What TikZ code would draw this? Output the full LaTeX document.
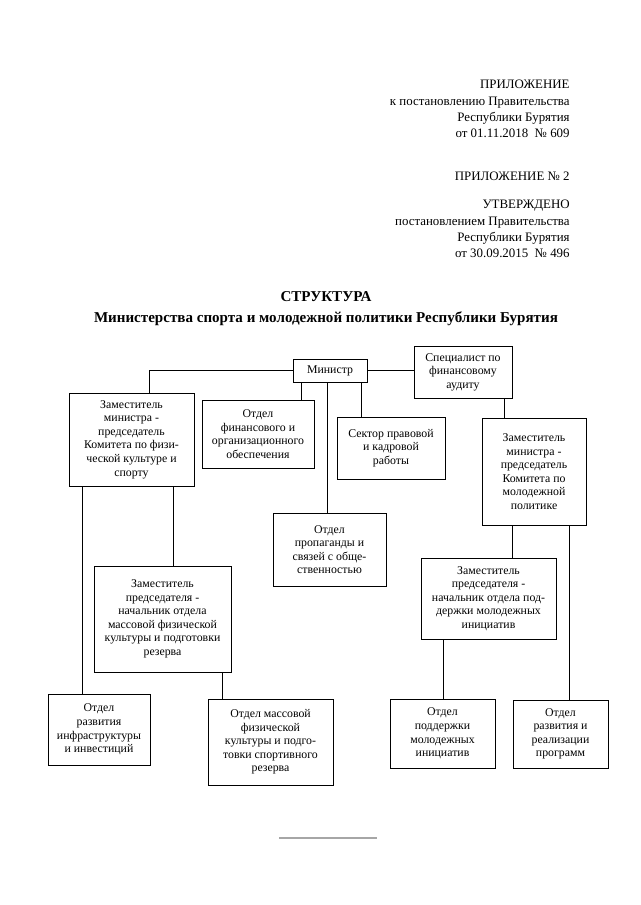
\documentclass[tikz,border=0pt]{standalone}
\usepackage{fontspec}
\setmainfont{Liberation Serif}
\usetikzlibrary{calc}
\newdimen\px
\px=0.9302pt
\tikzset{
  unit/.style={draw, align=center, inner sep=0pt, font=\fontsize{11}{12.6}\selectfont},
  header/.style={anchor=north east, align=right, inner sep=0pt, font=\fontsize{12}{15.2}\selectfont}
}

\begin{document}
\begin{tikzpicture}[x=\px, y=-\px, line width=0.7pt]
  \useasboundingbox (0,0) rectangle (640,905);
  % header
  \node[header] (app) at (570,80) {ПРИЛОЖЕНИЕ\\к постановлению Правительства\\Республики Бурятия\\от 01.11.2018~~№ 609};
  \node[header] (app2) at (570,172) {ПРИЛОЖЕНИЕ № 2};
  \node[header] (appr) at (570,200) {УТВЕРЖДЕНО\\постановлением Правительства\\Республики Бурятия\\от 30.09.2015~~№ 496};
  \node[align=center, inner sep=0pt, font=\bfseries\fontsize{14}{19.5}\selectfont] (title) at (326,308.5) {СТРУКТУРА\\Министерства спорта и молодежной политики Республики Бурятия};
  % boxes
  \node[unit, minimum width=74\px, minimum height=23\px] (min) at (330,370.5) {Министр};
  \node[unit, minimum width=98\px, minimum height=52\px] (audit) at (463,372) {Специалист по\\финансовому\\аудиту};
  \node[unit, minimum width=125\px, minimum height=93\px] (depsport) at (131.5,439.5) {Заместитель\\министра -\\председатель\\Комитета по физи-\\ческой культуре и\\спорту};
  \node[unit, minimum width=112\px, minimum height=68\px] (fin) at (258,434) {Отдел\\финансового и\\организационного\\обеспечения};
  \node[unit, minimum width=108\px, minimum height=62\px] (law) at (391,448) {Сектор правовой\\и кадровой\\работы};
  \node[unit, minimum width=113\px, minimum height=73\px] (press) at (329.5,549.5) {Отдел\\пропаганды и\\связей с обще-\\ственностью};
  \node[unit, minimum width=104\px, minimum height=107\px] (depyouth) at (534,471.5) {Заместитель\\министра -\\председатель\\Комитета по\\молодежной\\политике};
  \node[unit, minimum width=137\px, minimum height=106\px] (masshead) at (162.5,619) {Заместитель\\председателя -\\начальник отдела\\массовой физической\\культуры и подготовки\\резерва};
  \node[unit, minimum width=135\px, minimum height=81\px] (youthhead) at (488.5,598.5) {Заместитель\\председателя -\\начальник отдела под-\\держки молодежных\\инициатив};
  \node[unit, minimum width=102\px, minimum height=71\px] (infra) at (99,729.5) {Отдел\\развития\\инфраструктуры\\и инвестиций};
  \node[unit, minimum width=125\px, minimum height=86\px] (massdep) at (270.5,742) {Отдел массовой\\физической\\культуры и подго-\\товки спортивного\\резерва};
  \node[unit, minimum width=105\px, minimum height=69\px] (youthdep) at (442.5,733.5) {Отдел\\поддержки\\молодежных\\инициатив};
  \node[unit, minimum width=95\px, minimum height=68\px] (progr) at (560.5,734) {Отдел\\развития и\\реализации\\программ};
  % links
  \draw (min.west) -| ($(depsport.north)+(17.5,0)$);
  \draw (min.east) -- (min.east -| audit.west);
  \draw ($(min.south)+(-29,0)$) -- ($(fin.north)+(43,0)$);
  \draw ($(min.south)+(-3,0)$) -- ($(press.north)+(-2.5,0)$);
  \draw ($(min.south)+(31,0)$) -- ($(law.north)+(-30,0)$);
  \draw ($(audit.south)+(41,0)$) -- ($(depyouth.north)+(-30,0)$);
  \draw ($(depsport.south)+(-49.5,0)$) -- ($(infra.north)+(-17,0)$);
  \draw ($(depsport.south)+(41.5,0)$) -- ($(masshead.north)+(10.5,0)$);
  \draw ($(masshead.south)+(59.5,0)$) -- ($(massdep.north)+(-48.5,0)$);
  \draw ($(depyouth.south)+(-22,0)$) -- ($(youthhead.north)+(23.5,0)$);
  \draw ($(depyouth.south)+(35.5,0)$) -- ($(progr.north)+(9,0)$);
  \draw ($(youthhead.south)+(-45.5,0)$) -- ($(youthdep.north)+(0.5,0)$);
  \draw[gray!70, line width=1.6pt] (279,838) -- (377,838);
\end{tikzpicture}
\end{document}
